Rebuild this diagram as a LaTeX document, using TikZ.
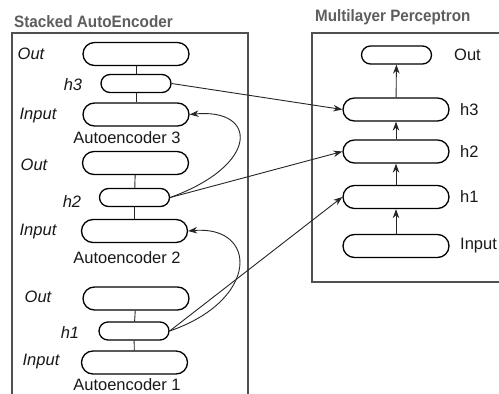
\documentclass[tikz,border=0pt]{standalone}
\usepackage{fontspec}
\setmainfont{Liberation Sans}
\usetikzlibrary{arrows.meta,shapes.misc}
\definecolor{titlegray}{HTML}{5E5E5E}
\definecolor{framegray}{HTML}{505050}
\definecolor{linegray}{HTML}{262626}
\begin{document}
\begin{tikzpicture}[x=1pt,y=-1pt,
  font=\fontsize{16.5}{19}\selectfont,
  bigpill/.style={rounded rectangle, draw=black, line width=1.3pt, minimum width=106pt, minimum height=23pt, inner sep=0pt},
  smallpill/.style={rounded rectangle, draw=black, line width=1.3pt, minimum width=70pt, minimum height=18pt, inner sep=0pt},
  frame/.style={draw=framegray, line width=1.2pt},
  conn/.style={draw=linegray, line width=0.9pt},
  arr/.style={conn, -{Stealth[length=9pt,width=6.5pt]}},
  ttl/.style={text=titlegray, font=\fontsize{16.5}{19}\selectfont\bfseries, inner sep=0pt, anchor=base west},
  lbl/.style={inner sep=0pt, text=black!90},
  ilbl/.style={lbl, font=\fontsize{16.5}{19}\selectfont\itshape},
]
\useasboundingbox (0,0) rectangle (499,394);
\clip (0,0) rectangle (499,394);
\fill[white] (0,0) rectangle (499,394);

% titles
\node[ttl] (t1) at (14,27) {\scalebox{0.925}[1]{Stacked AutoEncoder}};
\node[ttl] (t2) at (315,21) {\scalebox{0.92}[1]{Multilayer Perceptron}};

% frames
\draw[frame] (12,400) -- (12,33) -- (248,33) -- (248,400);
\draw[frame] (505,282) -- (312,282) -- (312,33) -- (505,33);

% Autoencoder 3
\node[bigpill] (o3) at (136,54) {};
\node[smallpill] (h3) at (136,83.5) {};
\node[bigpill] (i3) at (136,114.5) {};
\node[lbl] (ae3) at (127,138) {Autoencoder 3};
\node[ilbl] (lo3) at (31,54) {Out};
\node[ilbl] (lh3) at (73,85) {h3};
\node[ilbl] (li3) at (38,116) {Input};
\draw[conn] (o3) -- (h3);
\draw[conn] (h3) -- (i3);

% Autoencoder 2
\node[bigpill] (o2) at (135.5,163) {};
\node[smallpill] (h2) at (134.5,197.5) {};
\node[bigpill] (i2) at (134.5,231) {};
\node[lbl] (ae2) at (127,258) {Autoencoder 2};
\node[ilbl] (lo2) at (34,165) {Out};
\node[ilbl] (lh2) at (72,202) {h2};
\node[ilbl] (li2) at (38,232) {Input};
\draw[conn] (o2) -- (h2);
\draw[conn] (h2) -- (i2);

% Autoencoder 1
\node[bigpill] (o1) at (136,298.5) {};
\node[smallpill] (h1) at (134,331) {};
\node[bigpill] (i1) at (134.5,362.5) {};
\node[lbl] (ae1) at (127,385) {Autoencoder 1};
\node[ilbl] (lo1) at (38,297) {Out};
\node[ilbl] (lh1) at (70,333) {h1};
\node[ilbl] (li1) at (41,362) {Input};
\draw[conn] (o1) -- (h1);
\draw[conn] (h1) -- (i1);

% MLP
\node[smallpill] (mo) at (396.5,55) {};
\node[bigpill] (m3) at (396,109.5) {};
\node[bigpill] (m2) at (396,151.5) {};
\node[bigpill] (m1) at (396,197) {};
\node[bigpill] (mi) at (396,246) {};
\node[lbl, anchor=west] (lmo) at (454,55) {Out};
\node[lbl, anchor=west] (lm3) at (460,110) {h3};
\node[lbl, anchor=west] (lm2) at (460,152) {h2};
\node[lbl, anchor=west] (lm1) at (460,197) {h1};
\node[lbl, anchor=west] (lmi) at (460,246) {Input};
\draw[arr] (mi) -- (m1);
\draw[arr] (m1) -- (m2);
\draw[arr] (m2) -- (m3);
\draw[arr] (m3) -- (mo);

% cross connections
\draw[arr] (h3.east) -- (m3.west);
\draw[arr] (h2.east) -- (m2.west);
\draw[arr] (h1.east) -- (m1.west);
\draw[arr] (h2.east) .. controls (260,165) and (258,108) .. (i3.east);
\draw[arr] (h1.east) .. controls (260,300) and (258,225) .. (i2.east);
\end{tikzpicture}
\end{document}
